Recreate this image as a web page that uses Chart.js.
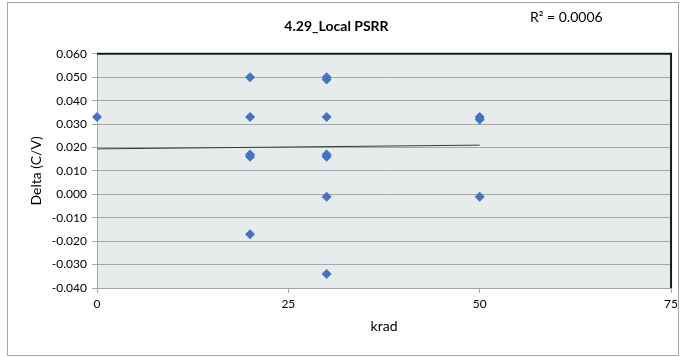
<!DOCTYPE html>
<html>
<head>
<meta charset="utf-8">
<script src="https://cdn.jsdelivr.net/npm/chart.js@4"></script>
<style>
  html, body { margin: 0; padding: 0; background: #fff; }
  #wrap { width: 682px; height: 357px; }
</style>
</head>
<body>
<div id="wrap"><canvas id="chart" width="682" height="357"></canvas></div>
<script>
// ---- data ----
const kradValues = [0, 20, 20, 20, 20, 20, 30, 30, 30, 30, 30, 30, 30, 50, 50, 50];
const deltaValues = [0.033, 0.050, 0.033, 0.016, 0.017, -0.017,
  0.050, 0.049, 0.033, 0.016, 0.017, -0.001, -0.034, 0.033, 0.032, -0.001];
const trendX = [0, 50];
const trendY = [0.0194, 0.0210];
const xTicks = [0, 25, 50, 75];
const yMin = -0.04, yMax = 0.06, yStep = 0.01;
const titleText = "4.29_Local PSRR";
const r2Text = "R\u00B2 = 0.0006";

const FONT = "Lato, 'Open Sans', sans-serif";

// ================= PLOT FRAME / BACKGROUND =================
const framePlugin = {
  id: "frame",
  beforeDraw(chart) {
    const { ctx, chartArea: a } = chart;
    ctx.save();
    ctx.fillStyle = "#fff";
    ctx.fillRect(0, 0, chart.width, chart.height);
    ctx.strokeStyle = "#a6a6a6";
    ctx.lineWidth = 1;
    ctx.strokeRect(7.5, 2.5, 671, 353);
    ctx.fillStyle = "#e6ecec";
    ctx.fillRect(a.left, a.top, a.right - a.left, a.bottom - a.top);
    ctx.restore();
  },
  afterDatasetsDraw(chart) {
    const { ctx, chartArea: a } = chart;
    ctx.save();
    ctx.strokeStyle = "#1a1a1a";
    ctx.lineWidth = 2;
    ctx.beginPath();
    ctx.moveTo(a.left, a.top);
    ctx.lineTo(a.right, a.top);
    ctx.lineTo(a.right, a.bottom);
    ctx.stroke();
    // R² label of the trendline
    ctx.fillStyle = "#000";
    ctx.font = "14px " + FONT;
    ctx.textBaseline = "middle";
    ctx.fillText(r2Text, 530, 17);
    ctx.restore();
  },
};

const points = kradValues.map((x, i) => ({ x, y: deltaValues[i] }));
const trend = trendX.map((x, i) => ({ x, y: trendY[i] }));

new Chart(document.getElementById("chart"), {
  type: "scatter",
  data: {
    datasets: [
      {
        label: "Delta",
        data: points,
        clip: false,
        pointStyle: "rectRot",
        pointRadius: 5,
        pointBackgroundColor: "#4472c4",
        pointBorderColor: "#4472c4",
        pointBorderWidth: 0,
        order: 1,
      },
      {
        type: "line",
        label: "Trend",
        data: trend,
        borderColor: "#3a3a3a",
        borderWidth: 1,
        pointRadius: 0,
        fill: false,
        order: 2,
      },
    ],
  },
  options: {
    responsive: false,
    animation: false,
    layout: { padding: { left: 0, right: 9, top: 0, bottom: 0 } },
    plugins: {
      legend: { display: false },
      tooltip: { enabled: false },
      title: {
        display: true,
        text: titleText,
        color: "#000",
        font: { family: FONT, size: 14, weight: "bold" },
        padding: { top: 18, bottom: 19 },
      },
    },
    scales: {
      x: {
        type: "linear",
        min: xTicks[0],
        max: xTicks[xTicks.length - 1],
        afterBuildTicks: (s) => { s.ticks = xTicks.map((v) => ({ value: v })); },
        afterFit: (s) => { s.height = 69; },
        grid: { drawOnChartArea: false, drawTicks: true, tickLength: 5, color: "#a6a6a6" },
        border: { color: "#a6a6a6", width: 1 },
        ticks: { color: "#000", font: { family: FONT, size: 12 }, padding: 4, maxRotation: 0 },
        title: {
          display: true,
          text: "krad",
          color: "#000",
          font: { family: FONT, size: 14 },
          padding: { top: 0, bottom: 22 },
        },
      },
      y: {
        min: yMin,
        max: yMax,
        afterFit: (s) => { s.width = 97; },
        grid: { color: "#a6a6a6", lineWidth: 1, tickLength: 5, drawTicks: true },
        border: { color: "#a6a6a6", width: 1 },
        ticks: {
          stepSize: yStep,
          color: "#000",
          font: { family: FONT, size: 12 },
          padding: 5,
          callback: (v) => Number(v).toFixed(3),
        },
        title: {
          display: true,
          text: "Delta (C/V)",
          color: "#000",
          font: { family: FONT, size: 14 },
          padding: { top: 28, bottom: 0 },
        },
      },
    },
  },
  plugins: [framePlugin],
});
</script>
</body>
</html>
